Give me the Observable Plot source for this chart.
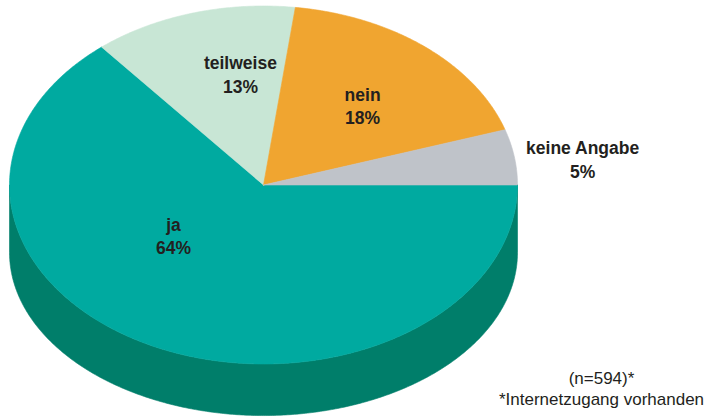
<!DOCTYPE html>
<html>
<head>
<meta charset="utf-8">
<script src="https://cdn.jsdelivr.net/npm/d3@7"></script>
<script src="https://cdn.jsdelivr.net/npm/@observablehq/plot@0.6"></script>
<style>
  html, body { margin: 0; padding: 0; background: #ffffff; }
  #chart svg { display: block; }
</style>
</head>
<body>
<div id="chart"></div>
<script>
// ---- data ----
const categories = ["ja", "teilweise", "nein", "keine Angabe"];
const percentages = [64, 13, 18, 5];
const footnoteLines = ["(n=594)*", "*Internetzugang vorhanden"];

// ---- styles ----
const topColors = ["#00AAA0", "#C8E6D5", "#F0A530", "#BFC3C9"];
const sideColors = ["#007E6A", "#9FBFAE", "#C98A22", "#9A9EA4"];
const textColor = "#231F20";

// ---- layout (label placement relative to slice mid-angle) ----
const labelRadius = [0.453, 0.629, 0.591, 1.265];
const labelAngleShift = [26.3, 7.9, 1.7, 2.3];
const bottomOffset = 0.377;   // depth of the 3D side, in top-ellipse radii
const bottomRy = 0.911;       // vertical radius of bottom ellipse (perspective)

const W = 710, H = 417;
const rad = (a) => a * Math.PI / 180;

const total = d3.sum(percentages);
let acc = 0;
const slices = categories.map((c, i) => {
  const a0 = acc / total * 360;
  acc += percentages[i];
  const a1 = acc / total * 360;
  return {c, i, a0, a1, mid: (a0 + a1) / 2};
});

function arcPts(a0, a1, yOff = 0, ry = 1) {
  const n = Math.max(2, Math.ceil((a1 - a0) / 0.5));
  const pts = [];
  for (let k = 0; k <= n; k++) {
    const a = rad(a0 + (a1 - a0) * k / n);
    pts.push([Math.cos(a), yOff + ry * Math.sin(a)]);
  }
  return pts;
}

const marks = [];
// sides (front half: 0..180 degrees, clockwise from 3 o'clock on screen)
slices.forEach(s => {
  const s0 = Math.max(s.a0, 0), s1 = Math.min(s.a1, 180);
  if (s1 > s0) {
    const pts = arcPts(s0, s1).concat(arcPts(s0, s1, bottomOffset, bottomRy).reverse());
    pts.push(pts[0]);
    marks.push(Plot.line(pts, {x: d => d[0], y: d => d[1], fill: sideColors[s.i], stroke: sideColors[s.i], strokeWidth: 0.6}));
  }
});
// top faces
slices.forEach(s => {
  const pts = [[0, 0], ...arcPts(s.a0, s.a1), [0, 0]];
  marks.push(Plot.line(pts, {x: d => d[0], y: d => d[1], fill: topColors[s.i], stroke: topColors[s.i], strokeWidth: 0.6}));
});
// labels
marks.push(Plot.text(slices, {
  x: d => labelRadius[d.i] * Math.cos(rad(d.mid + labelAngleShift[d.i])),
  y: d => labelRadius[d.i] * Math.sin(rad(d.mid + labelAngleShift[d.i])),
  text: d => `${d.c}\n${percentages[d.i]}%`,
  fontSize: 17.5,
  fontWeight: "bold",
  fill: textColor,
  lineHeight: 1.32,
  textAnchor: "middle",
  lineAnchor: "middle"
}));
// footnote
marks.push(Plot.text([footnoteLines.join("\n")], {
  text: d => d,
  frameAnchor: "bottom-right",
  dx: -109,
  dy: -13,
  textAnchor: "middle",
  lineAnchor: "bottom",
  lineHeight: 1.18,
  fontSize: 17,
  fill: textColor
}));

const chart = Plot.plot({
  width: W,
  height: H,
  margin: 0,
  x: {domain: [-1, 1], range: [9, 517], axis: null},
  y: {domain: [-1, 1], range: [5.5, 363.5], axis: null},
  style: {fontFamily: "'Liberation Sans', Arial, Helvetica, sans-serif", background: "#ffffff", overflow: "visible"},
  marks
});
document.getElementById("chart").appendChild(chart);
</script>
</body>
</html>
